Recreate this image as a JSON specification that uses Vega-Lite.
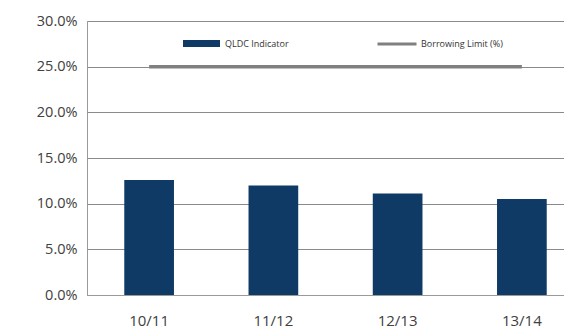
{
  "$schema": "https://vega.github.io/schema/vega-lite/v6.json",
  "autosize": {"type": "none"},
  "padding": {"left": 87, "top": 21, "right": 0, "bottom": 34},
  "width": 497,
  "height": 274,
  "background": "white",
  "config": {
    "view": {"stroke": "#9a9a9a", "strokeWidth": 1},
    "font": "Open Sans",
    "axis": {"labelFont": "Open Sans", "labelColor": "#404040", "labelFontSize": 14.5, "ticks": false, "title": null}
  },
  "data": {
    "values": [
      {"year": "10/11", "indicator": 0.126, "limit": 0.25},
      {"year": "11/12", "indicator": 0.120, "limit": 0.25},
      {"year": "12/13", "indicator": 0.111, "limit": 0.25},
      {"year": "13/14", "indicator": 0.105, "limit": 0.25}
    ]
  },
  "encoding": {
    "x": {
      "field": "year", "type": "nominal", "sort": null,
      "scale": {"paddingInner": 0.6, "paddingOuter": 0.3},
      "axis": {"labelAngle": 0, "labelPadding": 18, "labelFontSize": 15, "domain": true, "domainColor": "#9a9a9a", "grid": false}
    }
  },
  "layer": [
    {
      "mark": {"type": "bar"},
      "transform": [{"calculate": "'QLDC Indicator'", "as": "s1"}],
      "encoding": {
        "y": {
          "field": "indicator", "type": "quantitative",
          "scale": {"domain": [0, 0.3]},
          "axis": {"format": ".1%", "values": [0, 0.05, 0.1, 0.15, 0.2, 0.25, 0.3], "labelOverlap": false, "grid": true, "gridColor": "#8a8a8a", "domain": false, "labelPadding": 10}
        },
        "fill": {
          "field": "s1", "type": "nominal",
          "scale": {"range": ["#0f3a66"]},
          "legend": {"title": null, "orient": "none", "legendX": 96, "legendY": 4, "symbolType": "M-1,-0.19H1V0.19H-1Z", "symbolSize": 1369, "symbolFillColor": "#0d2d45", "symbolStrokeWidth": 0, "labelFontSize": 9, "labelColor": "#333333", "labelOffset": 5}
        }
      }
    },
    {
      "mark": {"type": "line", "strokeWidth": 3.5},
      "transform": [{"calculate": "'Borrowing Limit (%)'", "as": "s2"}],
      "encoding": {
        "y": {
          "field": "limit", "type": "quantitative", "scale": {"domain": [0, 0.3]},
          "axis": {"format": ".1%", "values": [0, 0.05, 0.1, 0.15, 0.2, 0.25, 0.3], "labelOverlap": false, "grid": true, "gridColor": "#8a8a8a", "domain": false, "labelPadding": 10}
        },
        "stroke": {
          "field": "s2", "type": "nominal",
          "scale": {"range": ["#808080"]},
          "legend": {"title": null, "orient": "none", "legendX": 289, "legendY": 2, "symbolType": "stroke", "symbolSize": 1521, "symbolStrokeWidth": 3, "labelFontSize": 9, "labelColor": "#333333", "labelOffset": 3}
        }
      }
    }
  ]
}
